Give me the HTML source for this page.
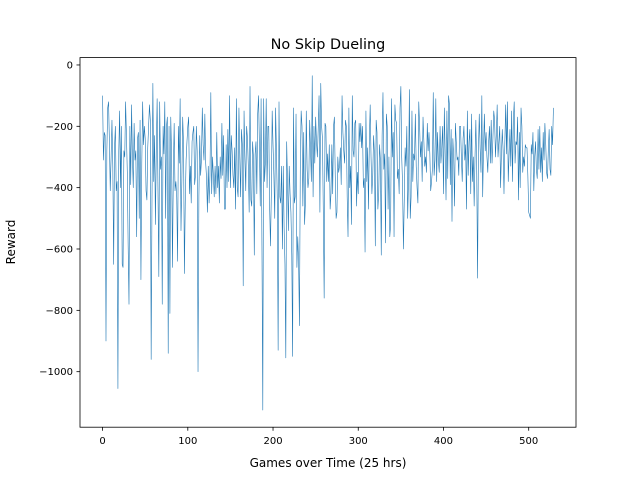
<!DOCTYPE html>
<html><head><meta charset="utf-8"><style>
html,body{margin:0;padding:0;background:#fff;}
svg text{font-family:"DejaVu Sans","Liberation Sans",sans-serif;fill:#000;}
</style></head><body>
<svg id="chart" width="640" height="480" viewBox="0 0 640 480" xmlns="http://www.w3.org/2000/svg">
<rect width="640" height="480" fill="#fff"/>
<text x="328" y="49" font-size="14.4" text-anchor="middle">No Skip Dueling</text>
<text x="328" y="467" font-size="12" text-anchor="middle">Games over Time (25 hrs)</text>
<text transform="translate(15,242) rotate(-90)" font-size="12" text-anchor="middle">Reward</text>
<g id="plot"></g>
</svg>
<script>
const rewards = [
-100,-310,-220,-230,-900,-280,-140,-120,-250,-410,
-300,-180,-330,-650,-270,-200,-410,-380,-1055,-280,
-150,-400,-200,-650,-660,-280,-300,-120,-230,-350,
-590,-780,-200,-390,-130,-300,-400,-190,-310,-280,
-560,-240,-220,-500,-180,-700,-320,-120,-260,-200,
-240,-410,-440,-270,-200,-130,-180,-960,-430,-60,
-380,-230,-520,-280,-110,-410,-690,-120,-340,-300,
-780,-200,-290,-120,-500,-200,-170,-940,-200,-810,
-170,-300,-660,-350,-190,-410,-380,-430,-640,-200,
-320,-110,-540,-380,-170,-260,-680,-450,-310,-250,
-200,-170,-420,-330,-450,-250,-220,-200,-390,-360,
-200,-280,-1000,-430,-230,-360,-310,-140,-260,-310,
-160,-320,-370,-480,-330,-450,-360,-90,-420,-300,
-360,-430,-330,-420,-220,-400,-330,-450,-300,-370,
-190,-360,-230,-470,-470,-260,-400,-210,-380,-100,
-400,-230,-280,-360,-400,-270,-470,-110,-400,-430,
-140,-300,-430,-210,-260,-720,-150,-300,-410,-200,
-240,-330,-480,-70,-440,-460,-250,-300,-620,-290,
-250,-420,-160,-100,-260,-460,-110,-590,-1125,-110,
-380,-320,-110,-400,-200,-200,-460,-590,-420,-150,
-260,-360,-500,-140,-280,-440,-930,-120,-430,-450,
-330,-600,-330,-530,-650,-955,-250,-380,-540,-330,
-420,-480,-620,-950,-140,-450,-430,-160,-660,-560,
-640,-850,-330,-150,-200,-460,-220,-520,-450,-150,
-340,-400,-370,-180,-280,-380,-35,-430,-200,-320,
-170,-250,-300,-210,-100,-480,-60,-200,-240,-480,
-760,-190,-200,-380,-290,-380,-260,-470,-420,-260,
-420,-200,-170,-360,-500,-480,-300,-350,-330,-270,
-390,-100,-220,-280,-320,-180,-200,-430,-560,-140,
-400,-330,-520,-100,-280,-300,-190,-180,-460,-350,
-420,-190,-250,-190,-270,-200,-400,-370,-610,-150,
-380,-270,-470,-250,-130,-300,-420,-360,-230,-290,
-590,-180,-220,-470,-420,-260,-310,-620,-230,-90,
-340,-290,-580,-160,-200,-470,-300,-560,-520,-110,
-300,-220,-560,-130,-180,-190,-370,-340,-420,-140,
-70,-300,-390,-600,-440,-270,-330,-200,-500,-370,
-80,-500,-430,-150,-380,-290,-310,-160,-330,-400,
-450,-120,-200,-300,-250,-380,-170,-250,-330,-300,
-350,-190,-280,-220,-290,-410,-380,-340,-90,-360,
-310,-110,-380,-220,-310,-350,-200,-320,-270,-200,
-420,-140,-290,-440,-150,-370,-100,-130,-390,-210,
-510,-240,-300,-460,-190,-250,-310,-300,-360,-200,
-200,-300,-380,-240,-200,-310,-260,-470,-150,-360,
-250,-210,-420,-160,-380,-300,-460,-300,-180,-340,
-695,-280,-160,-270,-350,-100,-430,-270,-160,-280,
-220,-300,-350,-250,-200,-320,-180,-320,-240,-150,
-180,-300,-230,-130,-300,-250,-200,-400,-290,-210,
-280,-420,-250,-130,-290,-120,-380,-290,-210,-330,
-150,-380,-180,-120,-320,-250,-260,-170,-440,-220,
-400,-140,-200,-350,-300,-330,-260,-270,-270,-360,
-480,-490,-500,-260,-290,-220,-410,-300,-250,-340,
-370,-210,-340,-200,-350,-270,-380,-220,-310,-190,
-260,-350,-370,-280,-210,-340,-360,-200,-260,-140
];
const xTicks = [0,100,200,300,400,500];
const yTicks = [0,-200,-400,-600,-800,-1000];
const xTickLabels = ["0","100","200","300","400","500"];
const yTickLabels = ["0","\u2212200","\u2212400","\u2212600","\u2212800","\u22121000"];

const L=80,R=576,T=57.6,B=427.2;
const xMin=-26.5,xMax=555.5,yMin=-1181,yMax=24;
const xs=v=>L+(v-xMin)/(xMax-xMin)*(R-L);
const ys=v=>B-(v-yMin)/(yMax-yMin)*(B-T);
const NS="http://www.w3.org/2000/svg";
const g=document.getElementById('plot');
function mk(tag,attrs){const e=document.createElementNS(NS,tag);for(const k in attrs)e.setAttribute(k,attrs[k]);g.appendChild(e);return e;}

let d='';
rewards.forEach((v,i)=>{d+=(i?'L':'M')+xs(i).toFixed(2)+','+ys(v).toFixed(2);});
const line=mk('path',{d:d,fill:'none',stroke:'#1f77b4','stroke-width':'0.6','stroke-linejoin':'round'});



const frame=mk('rect',{x:L,y:T,width:R-L,height:B-T,fill:'none',stroke:'#000','stroke-width':'0.8'});



xTicks.forEach((t,i)=>{
  const x=xs(t);
  const tk=mk('line',{x1:x,x2:x,y1:B,y2:B+3.5,stroke:'#000','stroke-width':'0.8'});
  
  
  const tx=mk('text',{x:x,y:B+17,'font-size':'10','text-anchor':'middle'});
  tx.textContent=xTickLabels[i];
  
  
});
yTicks.forEach((t,i)=>{
  const y=ys(t);
  const tk=mk('line',{x1:L-3.5,x2:L,y1:y,y2:y,stroke:'#000','stroke-width':'0.8'});
  
  
  const tx=mk('text',{x:L-7,y:y+3.5,'font-size':'10','text-anchor':'end'});
  tx.textContent=yTickLabels[i];
  
  
});
</script>
</body></html>
